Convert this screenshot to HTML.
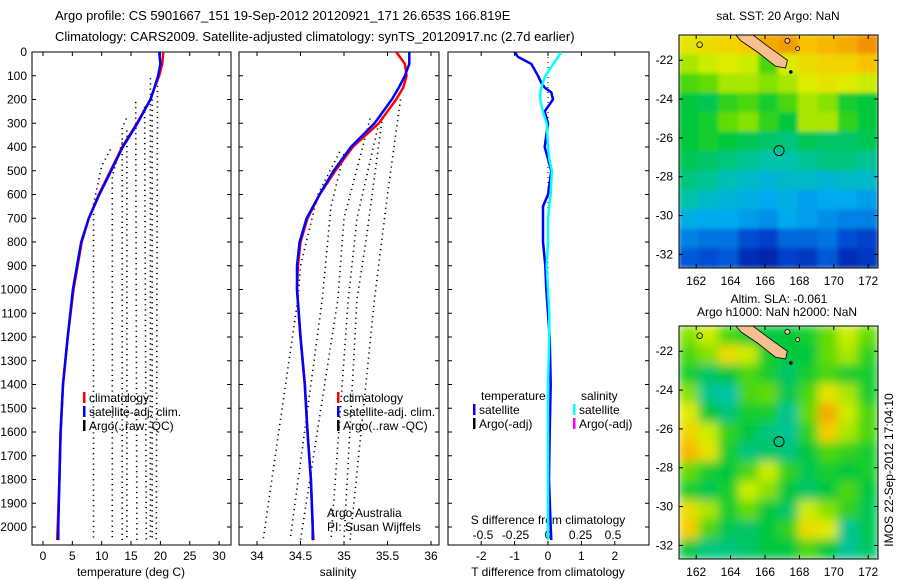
<!DOCTYPE html>
<html><head><meta charset="utf-8"><style>
body{margin:0;background:#fff}
svg{display:block;font-family:"Liberation Sans",sans-serif}
</style></head><body>
<svg id="fig" width="900" height="580" viewBox="0 0 900 580" xmlns="http://www.w3.org/2000/svg">
<defs>
<filter id="blur1" x="0" y="0" width="1" height="1"><feGaussianBlur stdDeviation="2" edgeMode="duplicate"/></filter>
<filter id="blur2" x="0" y="0" width="1" height="1"><feGaussianBlur stdDeviation="5" edgeMode="duplicate"/></filter>
<clipPath id="c1"><rect x="32" y="52" width="199" height="493"/></clipPath>
<clipPath id="c2"><rect x="239" y="52" width="200" height="493"/></clipPath>
<clipPath id="c3"><rect x="448" y="52" width="201" height="493"/></clipPath>
<clipPath id="cm1"><rect x="679" y="35" width="199" height="233"/></clipPath>
<clipPath id="cm2"><rect x="679" y="326" width="199" height="233"/></clipPath>
</defs>
<text x="55" y="20" font-size="13">Argo profile: CS 5901667_151 19-Sep-2012 20120921_171 26.653S 166.819E</text>
<text x="55" y="41" font-size="13">Climatology: CARS2009. Satellite-adjusted climatology: synTS_20120917.nc (2.7d earlier)</text>
<g id="g"></g>
<text transform="translate(893,470) rotate(-90)" text-anchor="middle" font-size="12">IMOS 22-Sep-2012 17:04:10</text>
</svg>
<script>
// ---- data ----
const depthTicks=[0,100,200,300,400,500,600,700,800,900,1000,1100,1200,1300,1400,1500,1600,1700,1800,1900,2000];
const tempTicks=[0,5,10,15,20,25,30];
const salTicks=[34,34.5,35,35.5,36];
const salTickLabels=["34","34.5","35","35.5","36"];
const tdTicks=[-2,-1,0,1,2];
const sdTicks=[-0.5,-0.25,0,0.25,0.5];
const sdTickLabels=["-0.5","-0.25","0","0.25","0.5"];
const climDepth=[0,50,100,150,200,300,400,500,600,700,800,900,1000,1200,1400,1600,1800,2000,2055];
const climTemp=[20.5,20.3,19.8,19.0,18.3,16.0,13.5,11.5,9.5,7.8,6.6,5.9,5.2,4.2,3.4,3.0,2.8,2.5,2.4];
const satTemp=[19.8,20.0,19.6,19.0,18.3,16.1,13.6,11.6,9.6,7.8,6.5,5.8,5.1,4.2,3.4,3.0,2.8,2.6,2.6];
const climSal=[35.6,35.7,35.72,35.68,35.6,35.4,35.1,34.9,34.72,34.58,34.5,34.47,34.46,34.5,34.55,34.58,34.62,34.64,34.65];
const satSal=[35.75,35.75,35.7,35.63,35.55,35.35,35.08,34.88,34.72,34.57,34.49,34.46,34.46,34.5,34.55,34.58,34.62,34.64,34.64];
const argoT=[
 [[11.5,410],[10,480],[8.6,640],[8.6,2055]],
 [[13.5,380],[11.8,520],[11.8,2055]],
 [[14.2,280],[13.5,320],[13.5,2055]],
 [[14.3,330],[14.3,2055]],
 [[15.8,210],[16,2055]],
 [[17.3,230],[17.6,2055]],
 [[18.3,110],[18.3,2055]],
 [[18.6,200],[18.6,2055]],
 [[19.5,120],[19.3,2055]]
];
const argoS=[
 [[34.95,420],[34.7,600],[34.5,900],[34.47,1040],[34.07,2055]],
 [[35.0,430],[34.85,650],[34.75,1040],[34.38,2055]],
 [[35.3,280],[35.0,700],[34.93,1040],[34.5,2055]],
 [[35.4,300],[35.15,700],[35.05,1040],[34.85,2055]],
 [[35.45,250],[35.25,800],[35.15,1040],[35.0,2055]],
 [[35.65,200],[35.5,600],[35.35,1040],[35.07,2055]]
];
const diffDepth=[0,20,50,100,130,150,170,200,250,300,400,450,500,600,650,700,800,900,1000,1100,1200,1400,1600,1800,2000,2055];
const tDiff=[-1.0,-0.9,-0.5,-0.3,-0.2,-0.1,0.1,0.15,-0.1,0,-0.1,0,0.1,0,-0.15,-0.15,-0.15,-0.08,-0.05,0,0.05,0.08,0.05,0.03,0.08,0.1];
const sDiff=[0.1,0.08,0.04,-0.02,-0.04,-0.05,-0.06,-0.06,-0.04,-0.01,0,0.01,0.03,0.02,0.01,0,0,-0.01,0,0.01,0.01,0,0,0,0,0];
const lonTicks=[162,164,166,168,170,172];
const latTicks=[-22,-24,-26,-28,-30,-32];
const sst=[
[.68,.70,.72,.74,.80,.82,.76,.78,.80,.84],
[.62,.64,.66,.64,.56,.66,.70,.72,.72,.76],
[.56,.58,.62,.62,.60,.62,.66,.68,.66,.64],
[.50,.48,.54,.56,.52,.56,.62,.60,.52,.50],
[.50,.52,.58,.60,.54,.50,.62,.62,.54,.50],
[.50,.52,.50,.48,.46,.44,.48,.46,.46,.48],
[.48,.46,.44,.42,.40,.40,.42,.44,.44,.42],
[.44,.42,.38,.36,.34,.36,.36,.34,.36,.36],
[.40,.36,.34,.32,.30,.32,.28,.30,.30,.28],
[.32,.30,.30,.28,.26,.30,.28,.26,.24,.24],
[.24,.22,.22,.16,.14,.20,.20,.22,.16,.14],
[.18,.16,.18,.10,.08,.14,.12,.18,.10,.12]];
const sla=[
[.60,.64,.56,.52,.50,.50,.52,.58,.64,.58],
[.56,.60,.70,.64,.52,.50,.50,.58,.62,.54],
[.52,.46,.50,.56,.52,.46,.52,.56,.52,.52],
[.60,.42,.40,.56,.58,.48,.56,.68,.62,.52],
[.66,.50,.44,.52,.52,.42,.58,.80,.64,.56],
[.72,.64,.54,.50,.44,.42,.54,.74,.62,.56],
[.78,.68,.52,.44,.46,.44,.50,.56,.54,.52],
[.58,.52,.50,.56,.64,.54,.48,.52,.50,.52],
[.52,.48,.52,.64,.60,.50,.46,.50,.56,.50],
[.70,.62,.52,.58,.50,.46,.64,.60,.54,.48],
[.74,.56,.48,.46,.50,.54,.70,.66,.42,.48],
[.50,.44,.44,.46,.50,.50,.56,.50,.42,.46]];
const argoLon=166.819, argoLat=-26.653;
const coastLon=[164.3,165.3,166.2,167.3,167.2,166.6,165.6,164.6];
const coastLat=[-20.7,-20.7,-21.3,-22.0,-22.4,-22.3,-21.6,-21.0];

// ---- helpers ----
const NS="http://www.w3.org/2000/svg";
const G=document.getElementById('g');
function mk(tag,attrs,parent){const e=document.createElementNS(NS,tag);for(const k in attrs)e.setAttribute(k,attrs[k]);(parent||G).appendChild(e);return e;}
const yD=d=>52+d*0.2375;
const xT=t=>43+t*5.87;
const xS=s=>257+(s-34)*87;
const xTD=v=>548+v*33.4;
const xSD=v=>548+v*130;
const cmapStops=[[0,0,0,130],[0.15,0,70,210],[0.3,0,170,240],[0.4,0,195,170],[0.5,0,200,60],[0.58,100,220,0],[0.65,220,240,0],[0.75,250,200,0],[0.85,240,140,0],[1,200,60,0]];
function jet(v){v=Math.max(0,Math.min(1,v));
 for(let i=1;i<cmapStops.length;i++){const a=cmapStops[i-1],b=cmapStops[i];
  if(v<=b[0]){const f=(v-a[0])/(b[0]-a[0]);
   return `rgb(${Math.round(a[1]+f*(b[1]-a[1]))},${Math.round(a[2]+f*(b[2]-a[2]))},${Math.round(a[3]+f*(b[3]-a[3]))})`;}}
 return 'rgb(200,60,0)';}

function panel(x0,w,name){
 const f=mk('rect',{x:x0,y:52,width:w,height:493,fill:'none',stroke:'#000','stroke-width':1});
 
 
 for(const d of depthTicks){mk('line',{x1:x0,x2:x0+4,y1:yD(d),y2:yD(d),stroke:'#000'});mk('line',{x1:x0+w-4,x2:x0+w,y1:yD(d),y2:yD(d),stroke:'#000'});}
}
function xticks(x0,w,ticks,labels,fx,ylab,name){
 ticks.forEach((t,i)=>{const x=fx(t);mk('line',{x1:x,x2:x,y1:545,y2:541,stroke:'#000'});mk('line',{x1:x,x2:x,y1:52,y2:56,stroke:'#000'});
  const tx=mk('text',{x:x,y:ylab,'text-anchor':'middle','font-size':12});tx.textContent=labels[i];
  
  });
}
function line(xs,ys,color,w,clip,name,dash){
 const p=xs.map((x,i)=>x.toFixed(1)+','+ys[i].toFixed(1)).join(' ');
 const a={points:p,fill:'none',stroke:color,'stroke-width':w,'clip-path':'url(#'+clip+')'};
 if(dash)a['stroke-dasharray']=dash;
 const e=mk('polyline',a);
 
 
}
function txt(x,y,s,name,anchor,size){const t=mk('text',{x:x,y:y,'font-size':size||12,'text-anchor':anchor||'start'});t.textContent=s;
 
 return t;}
function key(x,y,color,s,name){mk('rect',{x:x,y:y-10,width:2.5,height:11,fill:color});txt(x+6,y,s,name);}

// panel 1 temperature
panel(32,199,'temperature-panel');
depthTicks.forEach(d=>{txt(27,yD(d)+4,String(d),'depth-tick-label','end');});
xticks(32,199,tempTicks,tempTicks.map(String),xT,560,'temperature');
txt(131,576,'temperature (deg C)','temperature-axis-title','middle');
argoT.forEach(l=>line(l.map(p=>xT(p[0])),l.map(p=>yD(p[1])),'#000',1.6,'c1','argo-temp-profile','1.2 4'));
line(climTemp.map(xT),climDepth.map(yD),'#f00',2.5,'c1','climatology-temp-line');
line(satTemp.map(xT),climDepth.map(yD),'#00f',2.5,'c1','satellite-temp-line');
key(83,402,'#f00','climatology','legend-climatology');
key(83,416,'#00f','satellite-adj. clim.','legend-satellite');
key(83,430,'#000','Argo(..raw -QC)','legend-argo');

// panel 2 salinity
panel(239,200,'salinity-panel');
xticks(239,200,salTicks,salTickLabels,xS,560,'salinity');
txt(338,576,'salinity','salinity-axis-title','middle');
argoS.forEach(l=>line(l.map(p=>xS(p[0])),l.map(p=>yD(p[1])),'#000',1.6,'c2','argo-sal-profile','1.2 4'));
line(climSal.map(xS),climDepth.map(yD),'#f00',2.5,'c2','climatology-sal-line');
line(satSal.map(xS),climDepth.map(yD),'#00f',2.5,'c2','satellite-sal-line');
key(337,402,'#f00','climatology','legend-sal-climatology');
key(337,416,'#00f','satellite-adj. clim.','legend-sal-satellite');
key(337,430,'#000','Argo(..raw -QC)','legend-sal-argo');
txt(327,517,'Argo Australia','credit-line-1');
txt(327,531,'PI: Susan Wijffels','credit-line-2');

// panel 3 differences
panel(448,201,'difference-panel');
xticks(448,201,tdTicks,tdTicks.map(String),xTD,560,'tdiff');
sdTicks.forEach((t,i)=>txt(xSD(t),539,sdTickLabels[i],'sdiff-tick-label','middle'));
txt(548,524,'S difference from climatology','sdiff-axis-title','middle');
txt(548,576,'T difference from climatology','tdiff-axis-title','middle');
line([548,548],[yD(0),yD(1000)],'#000',1,'c3','zero-line','1 4');
line(tDiff.map(xTD),diffDepth.map(yD),'#00f',2.5,'c3','temp-diff-satellite');
line(sDiff.map(xSD),diffDepth.map(yD),'#0ff',2.5,'c3','sal-diff-satellite');
txt(481,400,'temperature','legend-temperature-heading');
txt(581,400,'salinity','legend-salinity-heading');
key(473,414,'#00f','satellite','legend-t-satellite');
key(473,428,'#000','Argo(-adj)','legend-t-argo');
key(573,414,'#0ff','satellite','legend-s-satellite');
key(573,428,'#f0f','Argo(-adj)','legend-s-argo');

// maps
function map(data,top,clip,blur,name){
 const lon0=161,lon1=172.57,lat0=-20.7,lat1=-32.7;
 const mx=l=>679+(l-lon0)*(199/(lon1-lon0));
 const my=l=>top+(lat0-l)*(233/(lat0-lat1));
 const cw=(lon1-lon0)/data[0].length, ch=(lat0-lat1)/data.length;
 const gg=mk('g',{'clip-path':'url(#'+clip+')'});
 
 
 const inner=mk('g',{filter:'url(#'+blur+')'},gg);
 data.forEach((row,r)=>row.forEach((v,c)=>{
  const cell=mk('rect',{x:mx(lon0+c*cw)-0.5,y:my(lat0-r*ch)-0.5,width:mx(lon0+cw)-mx(lon0)+1,height:my(lat0-ch)-my(lat0)+1,fill:jet(v)},inner);
  
  
 }));
 const poly=coastLon.map((l,i)=>mx(l).toFixed(1)+','+my(coastLat[i]).toFixed(1)).join(' ');
 const cst=mk('polygon',{points:poly,fill:'#f5bf90',stroke:'#000','stroke-width':0.8},gg);
 
 
 mk('circle',{cx:mx(167.5),cy:my(-22.6),r:1.8,fill:'#000'},gg);
 mk('circle',{cx:mx(167.3),cy:my(-21.0),r:2.5,fill:'#f5bf90',stroke:'#000','stroke-width':0.8},gg);
 mk('circle',{cx:mx(167.9),cy:my(-21.4),r:2,fill:'#f5bf90',stroke:'#000','stroke-width':0.8},gg);
 mk('circle',{cx:mx(162.2),cy:my(-21.2),r:2.8,fill:'none',stroke:'#000','stroke-width':0.8},gg);
 const ac=mk('circle',{cx:mx(argoLon),cy:my(argoLat),r:5,fill:'none',stroke:'#000','stroke-width':1},gg);
 
 
 const fr=mk('rect',{x:679,y:top,width:199,height:233,fill:'none',stroke:'#000'});
 
 
 lonTicks.forEach(l=>{const x=mx(l);mk('line',{x1:x,x2:x,y1:top+233,y2:top+229,stroke:'#000'});mk('line',{x1:x,x2:x,y1:top,y2:top+4,stroke:'#000'});
  txt(x,top+250,String(l),name+'-lon-label','middle');});
 latTicks.forEach(l=>{const y=my(l);mk('line',{x1:679,x2:683,y1:y,y2:y,stroke:'#000'});mk('line',{x1:874,x2:878,y1:y,y2:y,stroke:'#000'});
  txt(673,y+4,String(l),name+'-lat-label','end');});
}
map(sst,35,'cm1','blur1','sst-map');
map(sla,326,'cm2','blur2','sla-map');
txt(778,20,'sat. SST: 20 Argo: NaN','sst-map-title','middle');
txt(779,303,'Altim. SLA: -0.061','sla-map-title','middle');
txt(777,316,'Argo h1000: NaN h2000: NaN','sla-map-subtitle','middle');
</script>
</body></html>
